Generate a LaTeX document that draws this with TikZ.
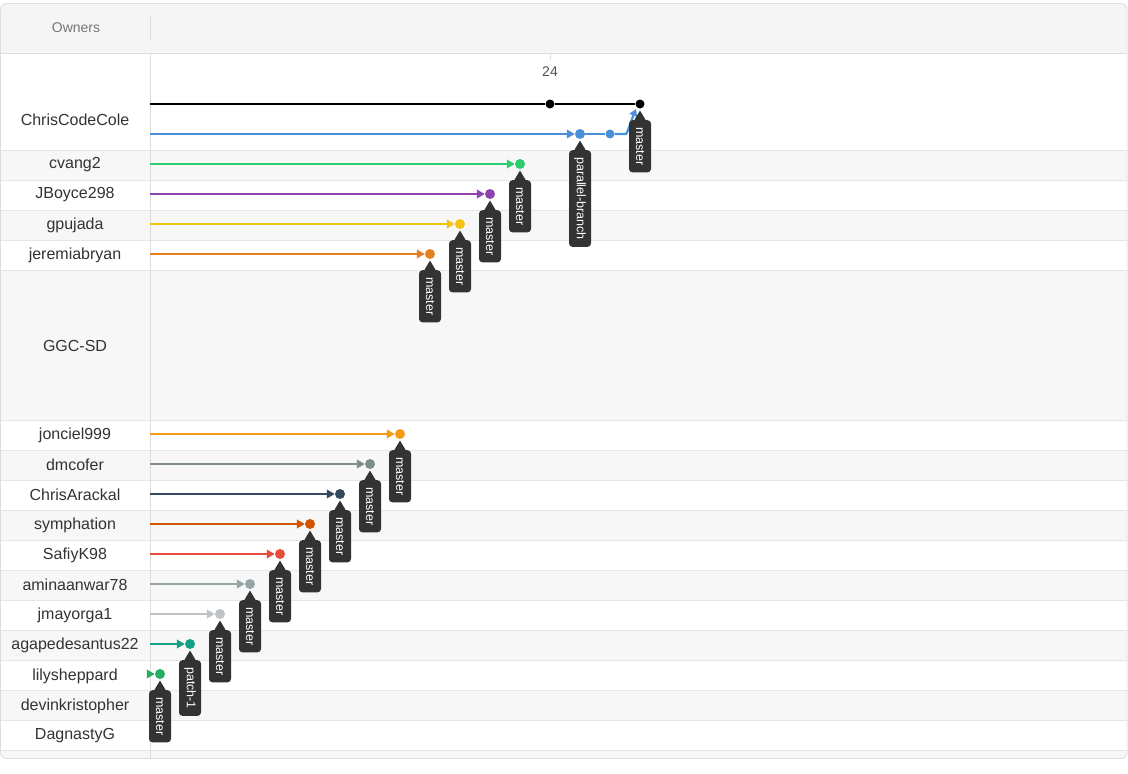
\documentclass[tikz,border=0pt]{standalone}
\usepackage{fontspec}
\setmainfont{Liberation Sans}
\usetikzlibrary{arrows.meta,calc}
\definecolor{txtc}{HTML}{333333}
\definecolor{hdrtxt}{HTML}{777777}
\definecolor{hdrfill}{HTML}{F5F5F5}
\definecolor{rowg}{HTML}{F7F7F7}
\definecolor{sepc}{HTML}{E6E6E6}
\definecolor{bordc}{HTML}{DDDDDD}
\definecolor{lblc}{HTML}{333333}
\definecolor{cgreen}{HTML}{2ECC71}
\definecolor{cpurple}{HTML}{8E44AD}
\definecolor{cyellow}{HTML}{F1C40F}
\definecolor{corange}{HTML}{E67E22}
\definecolor{corange2}{HTML}{F39C12}
\definecolor{cgrey}{HTML}{7F8C8D}
\definecolor{cnavy}{HTML}{34495E}
\definecolor{cpumpkin}{HTML}{D35400}
\definecolor{cred}{HTML}{E74C3C}
\definecolor{cgrey2}{HTML}{95A5A6}
\definecolor{csilver}{HTML}{BDC3C7}
\definecolor{cteal}{HTML}{16A085}
\definecolor{cgreen2}{HTML}{27AE60}
\definecolor{cblue}{HTML}{4A90D9}
\begin{document}
\begin{tikzpicture}[x=1pt,y=-1pt,
  ownertxt/.style={font=\fontsize{16}{19}\selectfont, text=txtc, inner sep=0pt},
  sepline/.style={draw=sepc, line width=1pt},
  cdot/.style={circle, inner sep=0pt, minimum size=10pt, fill=#1},
  cline/.style={line width=2.2pt, draw=#1, -{Triangle[length=8pt,width=8.5pt]}},
  lbl/.style={fill=lblc, text=white, rounded corners=3.5pt, rotate=-90, anchor=west,
    inner xsep=7pt, inner ysep=0pt, minimum height=22pt, font=\fontsize{12.5}{14}\selectfont},
]
\useasboundingbox[fill=white] (0,0) rectangle (1128,774);
\begin{scope}
\clip[rounded corners=6pt] (0.5,3.5) rectangle (1127,758.5);
\fill[hdrfill] (0,0) rectangle (1128,53);
\foreach \a/\b in {150/180,210/240,270/420,450/480,510/540,570/600,630/660,690/720,750/770}
  \fill[rowg] (0,\a) rectangle (1128,\b);
\foreach \a in {150,180,210,240,270,420,450,480,510,540,570,600,630,660,690,720,750}
  \draw[sepline] (0,\a) -- (1128,\a);
\end{scope}
\draw[bordc, line width=1pt] (0,53) -- (1127,53);
\draw[rounded corners=6pt, bordc, line width=0.8pt] (0.5,3.5) rectangle (1127,758.5);
% header
\node[font=\fontsize{14}{16}\selectfont, text=hdrtxt] (hdr) at (76,27.5) {Owners};
\draw[bordc, line width=1pt] (150,16) -- (150,41);
\draw[bordc, line width=1pt] (150,53) -- (150,758);
% tick
\draw[bordc, line width=1pt] (550,53) -- (550,60);
\node[font=\fontsize{14}{16}\selectfont, text=txtc!85] (tick) at (550,72) {24};
% owner names
\foreach \n/\y [count=\i] in {ChrisCodeCole/120, cvang2/165, JBoyce298/195, gpujada/225,
  jeremiabryan/255, GGC-SD/346, jonciel999/435, dmcofer/465, ChrisArackal/495,
  symphation/525, SafiyK98/555, aminaanwar78/585, jmayorga1/615, agapedesantus22/645,
  lilysheppard/676, devinkristopher/706, DagnastyG/736}
  \node[ownertxt] (own\i) at (75,\y) {\n};
% commit lines
\foreach \n/\x/\y/\c in {cv/520/164/cgreen, jb/490/194/cpurple, gp/460/224/cyellow,
  jr/430/254/corange, jc/400/434/corange2, dm/370/464/cgrey, ca/340/494/cnavy,
  sy/310/524/cpumpkin, sk/280/554/cred, aa/250/584/cgrey2, jm/220/614/csilver,
  ag/190/644/cteal, ls/160/674/cgreen2}
{
  \coordinate (\n-s) at (150,\y);
  \node[cdot=\c] (\n-d) at (\x,\y) {};
  \draw[cline=\c] (\n-s) -- (\n-d.west);
}
% ChrisCodeCole
\coordinate (k-s) at (150,104);
\node[cdot=black, minimum size=9pt] (k1-d) at (550,104) {};
\node[cdot=black, minimum size=9pt] (km-d) at (640,104) {};
\draw[line width=2.4pt, black] (k-s) -- (k1-d) -- (km-d);
\coordinate (b-s) at (150,134);
\node[cdot=cblue] (pb-d) at (580,134) {};
\node[cdot=cblue, minimum size=9pt] (b2-d) at (610,134) {};
\coordinate (b-turn) at (626,134);
\draw[cline=cblue] (b-s) -- (pb-d.west);
\draw[line width=2.2pt, cblue] (pb-d) -- (b2-d);
\draw[line width=2.2pt, cblue, -{Triangle[length=7pt,width=8pt]}] (b2-d) -- (b-turn)
  .. controls +(1,0) and +(-3,7) .. ($(km-d)+(-4,5)$);
% labels
\foreach \n/\t in {cv/master, jb/master, gp/master, jr/master, jc/master, dm/master,
  ca/master, sy/master, sk/master, aa/master, jm/master, ag/patch-1, ls/master,
  pb/parallel-branch, km/master}
{
  \node[lbl] (\n-l) at ($(\n-d)+(0,16)$) {\t};
  \fill[lblc] ($(\n-d)+(0,6.5)$) -- ($(\n-l.west)+(6,0.6)$) -- ($(\n-l.west)+(-6,0.6)$) -- cycle;
}
\end{tikzpicture}
\end{document}
